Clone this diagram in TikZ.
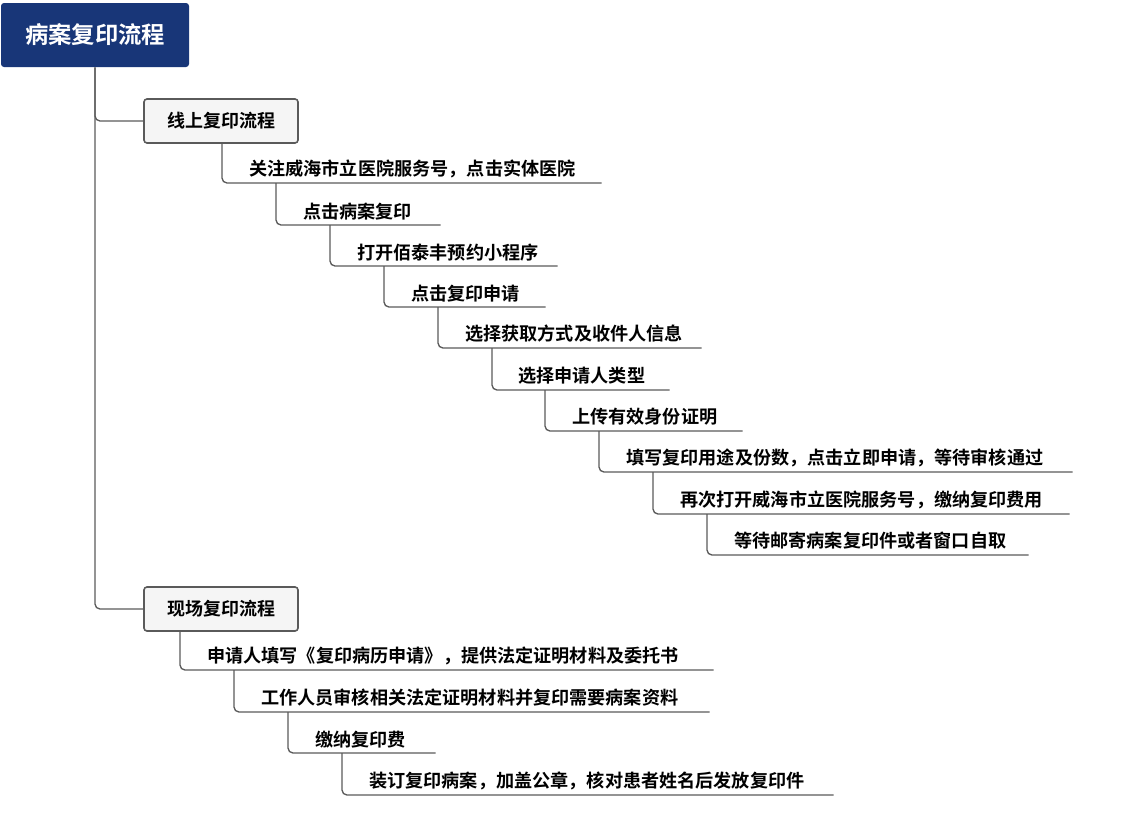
\documentclass[tikz,border=0pt]{standalone}
\usepackage{fontspec}
\setmainfont{Noto Sans CJK SC}[BoldFont=Noto Sans CJK SC Bold]
\usetikzlibrary{positioning}
\newlength\px \px=0.75pt
\definecolor{titleblue}{RGB}{24,54,120}
\definecolor{boxgray}{RGB}{245,245,245}
\definecolor{linegray}{RGB}{90,90,90}
\tikzset{
  title/.style  = {rectangle, rounded corners=3\px, fill=titleblue, text=white, minimum width=188\px, minimum height=64\px, font=\fontsize{17.5pt}{20pt}\bfseries},
  branch/.style = {rectangle, rounded corners=3\px, draw=linegray, line width=1.2pt, fill=boxgray, minimum width=154\px, minimum height=44\px, font=\fontsize{13.5pt}{15pt}\bfseries},
  item/.style   = {anchor=south west, inner sep=0pt, inner ysep=5\px, align=left, font=\fontsize{13.6pt}{15pt}\bfseries},
  link/.style   = {draw=linegray, line width=1pt, rounded corners=5\px}
}
\newcommand{\itemtext}[1]{\hspace*{27\px}#1}
\begin{document}
\begin{tikzpicture}[x=0.75pt, y=-0.75pt]
  \useasboundingbox (0,0) rectangle (1124,814);
  \node (root) [title]  at (95,35)   {病案复印流程};
  \node (on)   [branch] at (221,121) {线上复印流程};
  \node (off)  [branch] at (221,609) {现场复印流程};

  % online steps
  \node (o1)  [item, text width=379\px] at (222,183) {\itemtext{关注威海市立医院服务号，点击实体医院}};
  \node (o2)  [item, text width=164\px] at (276,225) {\itemtext{点击病案复印}};
  \node (o3)  [item, text width=227\px] at (330,266) {\itemtext{打开佰泰丰预约小程序}};
  \node (o4)  [item, text width=161\px] at (384,307) {\itemtext{点击复印申请}};
  \node (o5)  [item, text width=263\px] at (438,348) {\itemtext{选择获取方式及收件人信息}};
  \node (o6)  [item, text width=178\px] at (491,390) {\itemtext{选择申请人类型}};
  \node (o7)  [item, text width=197\px] at (545,431) {\itemtext{上传有效身份证明}};
  \node (o8)  [item, text width=473\px] at (599,472) {\itemtext{填写复印用途及份数，点击立即申请，等待审核通过}};
  \node (o9)  [item, text width=416\px] at (653,514) {\itemtext{再次打开威海市立医院服务号，缴纳复印费用}};
  \node (o10) [item, text width=321\px] at (707,555) {\itemtext{等待邮寄病案复印件或者窗口自取}};

  % on-site steps
  \node (f1) [item, text width=533\px] at (180,670) {\itemtext{申请人填写《复印病历申请》，提供法定证明材料及委托书}};
  \node (f2) [item, text width=475\px] at (234,712) {\itemtext{工作人员审核相关法定证明材料并复印需要病案资料}};
  \node (f3) [item, text width=147\px] at (288,753) {\itemtext{缴纳复印费}};
  \node (f4) [item, text width=491\px] at (342,795) {\itemtext{装订复印病案，加盖公章，核对患者姓名后发放复印件}};

  \draw [link] (root.south) |- (on.west);
  \draw [link] (root.south) |- (off.west);

  \draw [link] (on.south -| o1.south west) |- (o1.south east);
  \foreach \a/\b in {o1/o2, o2/o3, o3/o4, o4/o5, o5/o6, o6/o7, o7/o8, o8/o9, o9/o10}
    \draw [link] (\a.south west) ++(54,0) |- (\b.south east);

  \draw [link] (off.south -| f1.south west) |- (f1.south east);
  \foreach \a/\b in {f1/f2, f2/f3, f3/f4}
    \draw [link] (\a.south west) ++(54,0) |- (\b.south east);
\end{tikzpicture}
\end{document}
